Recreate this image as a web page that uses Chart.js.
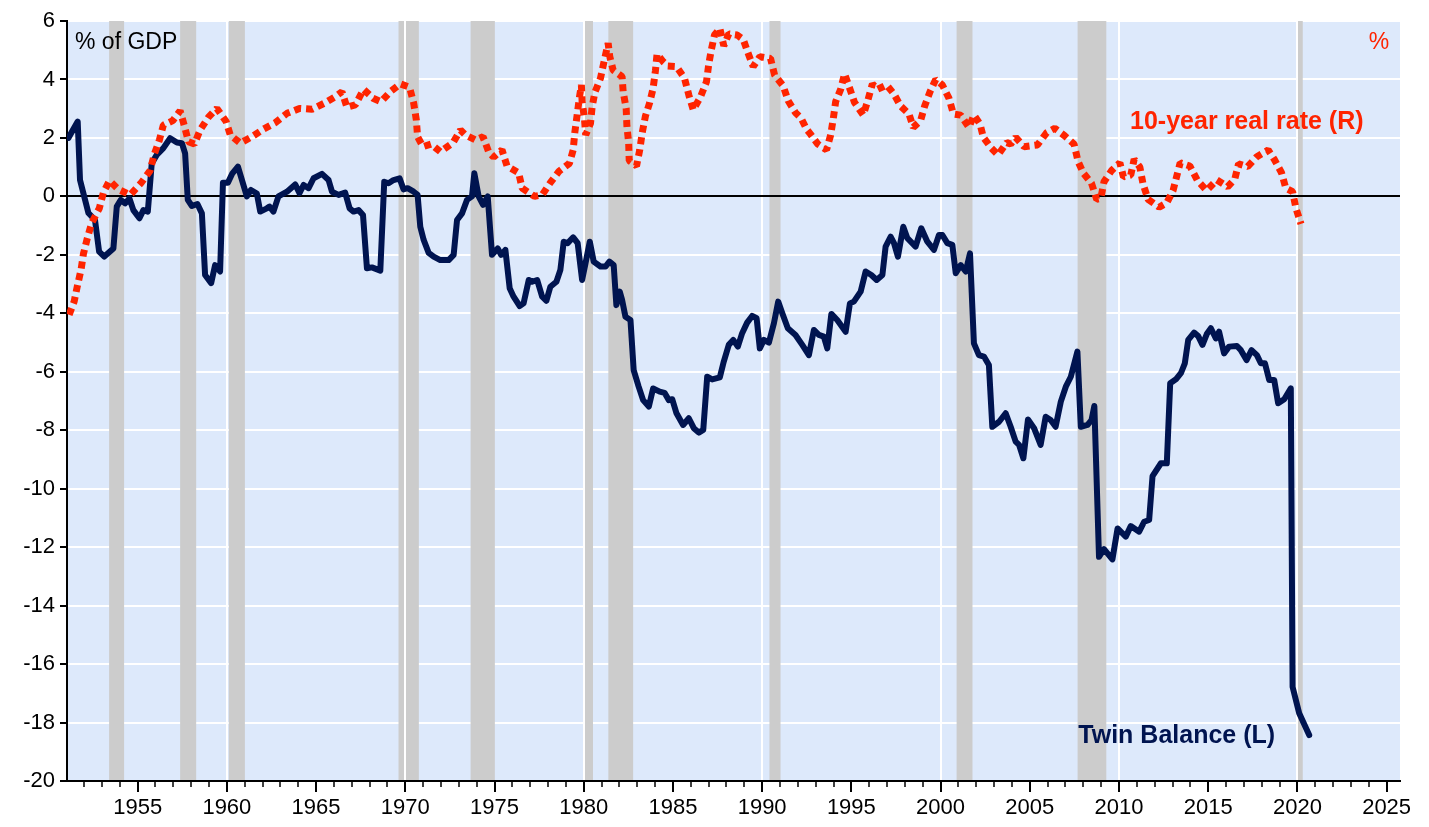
<!DOCTYPE html>
<html lang="en">
<head>
  <meta charset="UTF-8">
  <title>Twin Balance and 10-year real rate</title>
  <script src="https://cdn.jsdelivr.net/npm/chart.js"></script>
  <style>
    html, body { margin: 0; padding: 0; background: #ffffff; }
  </style>
</head>
<body>
<canvas id="twinChart" width="1429" height="827"></canvas>

<script>
  // Twin balance (% of GDP, left scale)
  const twinYears = [
    1951.12, 1951.64, 1951.77, 1952.24, 1952.61, 1952.84, 1953.13, 1953.64, 1953.83, 1954.05,
    1954.30, 1954.54, 1954.76, 1955.10, 1955.32, 1955.57, 1955.79, 1956.07, 1956.44, 1956.82,
    1957.20, 1957.48, 1957.66, 1957.81, 1958.04, 1958.35, 1958.60, 1958.78, 1959.12, 1959.34,
    1959.62, 1959.78, 1960.06, 1960.31, 1960.62, 1961.12, 1961.35, 1961.68, 1961.87, 1962.24,
    1962.39, 1962.61, 1962.89, 1963.37, 1963.83, 1964.07, 1964.30, 1964.58, 1964.86, 1965.33,
    1965.70, 1965.89, 1966.26, 1966.63, 1966.88, 1967.10, 1967.38, 1967.63, 1967.85, 1968.13,
    1968.60, 1968.82, 1969.06, 1969.34, 1969.68, 1969.90, 1970.13, 1970.47, 1970.69, 1970.84,
    1971.03, 1971.31, 1971.59, 1971.96, 1972.43, 1972.71, 1972.90, 1973.18, 1973.46, 1973.74,
    1973.87, 1974.11, 1974.36, 1974.62, 1974.86, 1975.18, 1975.37, 1975.61, 1975.85, 1976.07,
    1976.41, 1976.63, 1976.92, 1977.11, 1977.39, 1977.67, 1977.91, 1978.13, 1978.47, 1978.69,
    1978.88, 1979.10, 1979.41, 1979.66, 1979.91, 1980.10, 1980.34, 1980.56, 1980.94, 1981.22,
    1981.44, 1981.68, 1981.83, 1982.02, 1982.15, 1982.34, 1982.62, 1982.80, 1983.08, 1983.33,
    1983.65, 1983.89, 1984.26, 1984.53, 1984.77, 1984.96, 1985.20, 1985.57, 1985.89, 1986.17,
    1986.45, 1986.70, 1986.92, 1987.20, 1987.63, 1987.85, 1988.13, 1988.38, 1988.64, 1988.88,
    1989.16, 1989.44, 1989.69, 1989.87, 1990.10, 1990.38, 1990.66, 1990.90, 1991.13, 1991.44,
    1991.87, 1992.25, 1992.62, 1992.90, 1993.18, 1993.46, 1993.65, 1993.88, 1994.21, 1994.68,
    1994.92, 1995.14, 1995.52, 1995.80, 1996.12, 1996.42, 1996.74, 1996.92, 1997.20, 1997.39,
    1997.61, 1997.91, 1998.14, 1998.60, 1998.92, 1999.26, 1999.63, 1999.91, 2000.10, 2000.38,
    2000.66, 2000.85, 2001.13, 2001.41, 2001.65, 2001.87, 2002.15, 2002.43, 2002.71, 2002.90,
    2003.28, 2003.65, 2003.93, 2004.21, 2004.40, 2004.64, 2004.90, 2005.24, 2005.61, 2005.89,
    2006.17, 2006.45, 2006.74, 2007.02, 2007.30, 2007.67, 2007.86, 2008.24, 2008.46, 2008.62,
    2008.88, 2009.16, 2009.63, 2009.92, 2010.38, 2010.66, 2011.13, 2011.41, 2011.69, 2011.88,
    2012.35, 2012.68, 2012.87, 2013.19, 2013.47, 2013.69, 2013.88, 2014.21, 2014.44, 2014.68,
    2014.92, 2015.15, 2015.43, 2015.61, 2015.89, 2016.17, 2016.61, 2016.83, 2017.15, 2017.43,
    2017.73, 2017.95, 2018.18, 2018.42, 2018.70, 2018.92, 2019.26, 2019.63, 2019.73, 2020.10,
    2020.66
  ];
  const twinValues = [
    2.0, 2.56, 0.56, -0.57, -0.81, -1.89, -2.06, -1.78, -0.35, -0.12,
    -0.24, -0.07, -0.47, -0.75, -0.47, -0.52, 1.13, 1.42, 1.65, 1.99,
    1.84, 1.82, 1.47, -0.12, -0.33, -0.26, -0.58, -2.69, -2.97, -2.35,
    -2.57, 0.47, 0.47, 0.79, 1.02, 0.0, 0.22, 0.1, -0.52, -0.41,
    -0.35, -0.52, 0.0, 0.16, 0.41, 0.11, 0.39, 0.28, 0.62, 0.77,
    0.56, 0.16, 0.05, 0.13, -0.41, -0.52, -0.47, -0.64, -2.46, -2.43,
    -2.54, 0.5, 0.45, 0.56, 0.62, 0.24, 0.28, 0.16, 0.05, -1.04,
    -1.49, -1.93, -2.06, -2.18, -2.18, -2.0, -0.81, -0.58, -0.12, 0.0,
    0.79, 0.0, -0.29, 0.0, -2.0, -1.78, -2.0, -1.83, -3.14, -3.43,
    -3.75, -3.66, -2.86, -2.92, -2.86, -3.43, -3.57, -3.09, -2.92, -2.52,
    -1.55, -1.6, -1.4, -1.6, -2.86, -2.29, -1.55, -2.23, -2.4, -2.4,
    -2.23, -2.35, -3.72, -3.26, -3.54, -4.12, -4.23, -5.94, -6.51, -6.97,
    -7.19, -6.57, -6.68, -6.72, -6.97, -6.94, -7.42, -7.82, -7.59, -7.93,
    -8.08, -7.99, -6.17, -6.26, -6.19, -5.65, -5.08, -4.91, -5.14, -4.68,
    -4.32, -4.09, -4.17, -5.2, -4.91, -5.0, -4.34, -3.6, -4.0, -4.51,
    -4.74, -5.08, -5.43, -4.57, -4.74, -4.8, -5.2, -4.02, -4.23, -4.63,
    -3.66, -3.6, -3.26, -2.57, -2.69, -2.86, -2.69, -1.72, -1.38, -1.6,
    -2.06, -1.04, -1.43, -1.72, -1.09, -1.55, -1.83, -1.32, -1.32, -1.6,
    -1.66, -2.63, -2.35, -2.57, -1.95, -5.03, -5.43, -5.48, -5.77, -7.88,
    -7.71, -7.42, -7.88, -8.39, -8.5, -8.96, -7.63, -7.93, -8.5, -7.54,
    -7.65, -7.88, -7.02, -6.51, -6.17, -5.31, -7.88, -7.82, -7.65, -7.17,
    -12.33, -12.07, -12.42, -11.36, -11.64, -11.28, -11.47, -11.13, -11.07, -9.57,
    -9.13, -9.13, -6.39, -6.26, -6.05, -5.71, -4.91, -4.66, -4.78, -5.08,
    -4.71, -4.51, -4.86, -4.63, -5.37, -5.14, -5.12, -5.26, -5.6, -5.26,
    -5.43, -5.71, -5.71, -6.28, -6.28, -7.08, -6.94, -6.57, -16.78, -17.68,
    -18.43
  ];

  // 10-year real rate (%, right scale)
  const rateYears = [
    1951.16, 1951.44, 1951.62, 1951.83, 1951.96, 1952.18, 1952.43, 1952.85, 1953.08, 1953.42,
    1953.92, 1954.58, 1955.18, 1955.70, 1955.92, 1956.22, 1956.44, 1956.97, 1957.38, 1957.62,
    1957.85, 1958.18, 1958.50, 1958.97, 1959.44, 1959.96, 1960.19, 1960.75, 1961.40, 1962.05,
    1962.71, 1963.37, 1964.07, 1964.77, 1965.47, 1966.07, 1966.45, 1966.73, 1967.20, 1967.66,
    1968.19, 1968.64, 1969.16, 1969.72, 1970.24, 1970.47, 1970.62, 1970.69, 1970.99, 1971.44,
    1971.96, 1972.68, 1973.09, 1973.37, 1973.93, 1974.36, 1974.67, 1974.95, 1975.42, 1975.70,
    1976.35, 1976.55, 1977.24, 1977.67, 1978.13, 1978.60, 1979.20, 1979.41, 1979.50, 1979.63,
    1979.76, 1979.87, 1979.91, 1980.04, 1980.11, 1980.38, 1980.47, 1980.62, 1980.94, 1981.16,
    1981.37, 1981.46, 1981.65, 1982.15, 1982.21, 1982.38, 1982.42, 1982.52, 1982.55, 1982.96,
    1983.14, 1983.28, 1983.46, 1983.70, 1983.89, 1984.02, 1984.11, 1984.45, 1984.71, 1985.20,
    1985.65, 1985.89, 1986.14, 1986.55, 1986.88, 1987.01, 1987.15, 1987.33, 1987.63, 1987.85,
    1988.13, 1988.60, 1988.94, 1989.20, 1989.50, 1989.87, 1990.47, 1990.70, 1991.18, 1991.46,
    1991.87, 1992.19, 1992.49, 1992.71, 1993.12, 1993.61, 1993.84, 1993.99, 1994.12, 1994.40,
    1994.62, 1994.86, 1995.18, 1995.67, 1995.93, 1996.18, 1996.46, 1996.98, 1997.39, 1997.76,
    1998.23, 1998.47, 1998.88, 1999.11, 1999.41, 1999.73, 2000.10, 2000.47, 2000.72, 2001.13,
    2001.59, 2001.87, 2002.21, 2002.40, 2002.85, 2003.22, 2003.71, 2003.93, 2004.21, 2004.68,
    2005.43, 2005.95, 2006.40, 2006.96, 2007.48, 2007.71, 2008.01, 2008.46, 2008.75, 2008.98,
    2009.16, 2009.58, 2010.05, 2010.25, 2010.66, 2010.85, 2011.17, 2011.35, 2011.63, 2012.25,
    2012.68, 2013.03, 2013.22, 2013.43, 2013.97, 2014.40, 2014.91, 2015.49, 2016.09, 2016.49,
    2016.70, 2017.21, 2017.73, 2018.36, 2018.70, 2019.11, 2019.35, 2019.73, 2019.92, 2020.20
  ];
  const rateValues = [
    -4.05, -3.6, -3.07, -2.5, -1.97, -1.43, -0.9, -0.41, 0.13, 0.54,
    0.24, 0.05, 0.45, 0.88, 1.42, 1.93, 2.44, 2.59, 2.93, 2.41,
    1.87, 1.79, 2.27, 2.71, 3.01, 2.56, 2.1, 1.82, 2.04, 2.3,
    2.52, 2.84, 3.01, 2.98, 3.19, 3.41, 3.58, 3.05, 3.13, 3.66,
    3.36, 3.24, 3.58, 3.85, 3.73, 3.19, 2.61, 2.04, 1.7, 1.79,
    1.53, 1.84, 2.27, 2.1, 1.93, 2.04, 1.53, 1.34, 1.59, 1.04,
    0.81, 0.28, 0.0, 0.05, 0.47, 0.85, 1.13, 1.59, 2.18, 2.78,
    3.39, 3.81, 3.24, 2.67, 2.1, 2.5, 3.05, 3.55, 4.04, 4.67,
    5.24, 4.78, 4.32, 4.1, 3.58, 3.01, 2.41, 1.82, 1.22, 1.04,
    1.59, 2.18, 2.75, 3.21, 3.7, 4.3, 4.87, 4.61, 4.46, 4.44,
    4.04, 3.47, 2.96, 3.41, 3.92, 4.53, 5.01, 5.52, 5.75, 5.15,
    5.56, 5.52, 5.37, 4.92, 4.44, 4.78, 4.72, 4.15, 3.78, 3.27,
    2.86, 2.67, 2.3, 2.13, 1.79, 1.59, 2.1, 2.67, 3.24, 3.66,
    4.19, 3.78, 3.21, 2.78, 3.3, 3.85, 3.66, 3.81, 3.5, 3.09,
    2.82, 2.36, 2.59, 3.09, 3.58, 4.0, 3.81, 3.36, 2.82, 2.78,
    2.36, 2.78, 2.48, 2.02, 1.65, 1.42, 1.84, 1.79, 2.02, 1.7,
    1.76, 2.18, 2.33, 2.07, 1.79, 1.19, 0.79, 0.45, -0.1, -0.07,
    0.5, 0.88, 1.15, 0.67, 0.73, 1.27, 1.0, 0.42, -0.1, -0.37,
    -0.22, 0.2, 0.65, 1.15, 1.04, 0.54, 0.2, 0.56, 0.33, 0.59,
    1.11, 1.02, 1.36, 1.59, 1.27, 0.81, 0.28, 0.16, -0.41, -0.94
  ];

  // US recessions (shaded)
  const recessionStart = [1953.40, 1957.38, 1960.11, 1969.62, 1973.66, 1979.97, 1981.38, 1990.41, 2000.90, 2007.68, 2020.00];
  const recessionEnd   = [1954.24, 1958.28, 1961.01, 1970.76, 1975.02, 1980.52, 1982.77, 1991.03, 2001.79, 2009.29, 2020.30];

  const xMin = 1951.04;
  const xMax = 2025.75;
  const tickYears = [];
  for (let yr = 1952; yr <= 2025; yr++) tickYears.push(yr);

  const NAVY = '#001450';
  const RED = '#ff2400';
  const FONT = '"Liberation Sans", Arial, sans-serif';

  function toPoints(xs, ys) {
    return xs.map((x, i) => ({ x: x, y: ys[i] }));
  }

  // background, recession bars, decade lines, zero line, x tick marks and labels
  const decorations = {
    id: 'decorations',
    beforeDraw(chart) {
      const { ctx, chartArea: a } = chart;
      ctx.save();
      ctx.fillStyle = '#dde9fb';
      ctx.fillRect(a.left, a.top, a.right - a.left, a.bottom - a.top);
      ctx.restore();
    },
    beforeDatasetsDraw(chart) {
      const { ctx, chartArea: a, scales } = chart;
      const x = scales.x, y = scales.y;
      ctx.save();
      ctx.fillStyle = '#cccccc';
      recessionStart.forEach((s, i) => {
        const x0 = x.getPixelForValue(s);
        const x1 = x.getPixelForValue(recessionEnd[i]);
        ctx.fillRect(x0, a.top, x1 - x0, a.bottom - a.top - 1);
      });
      ctx.strokeStyle = '#ffffff';
      ctx.lineWidth = 2;
      tickYears.filter(yr => yr % 10 === 0).forEach(yr => {
        const px = Math.round(x.getPixelForValue(yr));
        ctx.beginPath();
        ctx.moveTo(px, a.top);
        ctx.lineTo(px, a.bottom - 1);
        ctx.stroke();
      });
      const zy = Math.round(y.getPixelForValue(0));
      ctx.strokeStyle = '#000000';
      ctx.lineWidth = 2;
      ctx.beginPath();
      ctx.moveTo(a.left, zy);
      ctx.lineTo(a.right, zy);
      ctx.stroke();
      // x tick marks: long every 5 years, short every year
      tickYears.forEach(yr => {
        const px = Math.round(x.getPixelForValue(yr));
        const major = yr % 5 === 0;
        ctx.lineWidth = major ? 2 : 1.5;
        ctx.beginPath();
        ctx.moveTo(px, a.bottom);
        ctx.lineTo(px, a.bottom + (major ? 11 : 6));
        ctx.stroke();
      });
      ctx.restore();
    },
    afterDatasetsDraw(chart) {
      const { ctx, chartArea: a, scales } = chart;
      const x = scales.x, y = scales.y;
      ctx.save();
      ctx.textBaseline = 'middle';
      ctx.textAlign = 'left';
      ctx.font = '23px ' + FONT;
      ctx.fillStyle = '#000000';
      ctx.fillText('% of GDP', a.left + 8, y.getPixelForValue(5.25));
      ctx.fillStyle = RED;
      ctx.fillText('%', x.getPixelForValue(2024.0), y.getPixelForValue(5.25));
      ctx.font = 'bold 25px ' + FONT;
      ctx.fillText('10-year real rate (R)', x.getPixelForValue(2010.62), y.getPixelForValue(2.55));
      ctx.fillStyle = NAVY;
      ctx.fillText('Twin Balance (L)', x.getPixelForValue(2007.72), y.getPixelForValue(-18.45));
      ctx.restore();
    }
  };

  const ctx = document.getElementById('twinChart').getContext('2d');
  const chart = new Chart(ctx, {
    type: 'line',
    data: {
      datasets: [
        {
          label: '10-year real rate (R)',
          data: toPoints(rateYears, rateValues),
          yAxisID: 'y2',
          borderColor: RED,
          borderWidth: 7,
          borderDash: [7, 5],
          borderCapStyle: 'butt',
          borderJoinStyle: 'bevel',
          pointRadius: 0,
          tension: 0,
          fill: false
        },
        {
          label: 'Twin Balance (L)',
          data: toPoints(twinYears, twinValues),
          yAxisID: 'y',
          borderColor: NAVY,
          borderWidth: 6,
          borderJoinStyle: 'round',
          borderCapStyle: 'round',
          pointRadius: 0,
          tension: 0,
          fill: false
        }
      ]
    },
    options: {
      responsive: false,
      animation: false,
      layout: { padding: { left: 0, right: 29, top: 21, bottom: 0 } },
      plugins: {
        legend: { display: false },
        tooltip: { enabled: false }
      },
      scales: {
        x: {
          type: 'linear',
          min: xMin,
          max: xMax,
          afterBuildTicks: scale => { scale.ticks = tickYears.map(v => ({ value: v })); },
          afterFit: scale => { scale.height = 46; },
          grid: { drawOnChartArea: false, drawTicks: true, tickLength: 10, color: 'rgba(0,0,0,0)', tickColor: 'rgba(0,0,0,0)' },
          border: { display: true, color: '#000000', width: 2 },
          ticks: {
            autoSkip: false,
            maxRotation: 0,
            padding: 4,
            color: '#000000',
            font: { family: FONT, size: 22 },
            callback: v => (v % 5 === 0 ? String(v) : '')
          }
        },
        y: {
          position: 'left',
          min: -20,
          max: 6,
          afterFit: scale => { scale.width = 67; },
          grid: {
            color: c => (c.tick && c.tick.value === 0 ? 'rgba(0,0,0,0)' : '#ffffff'),
            lineWidth: 2,
            drawTicks: true,
            tickLength: 7,
            tickColor: '#000000',
            tickWidth: 2
          },
          border: { display: true, color: '#000000', width: 2 },
          ticks: {
            stepSize: 2,
            padding: 5,
            color: '#000000',
            font: { family: FONT, size: 22 }
          }
        },
        y2: {
          display: false,
          min: -20,
          max: 6
        }
      }
    },
    plugins: [decorations]
  });
</script>
</body>
</html>
